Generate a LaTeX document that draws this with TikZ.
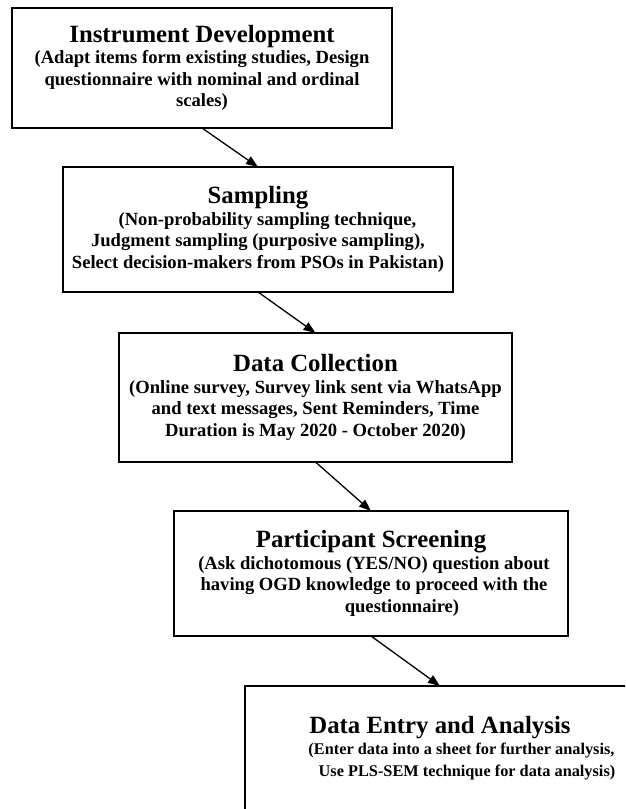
\documentclass[tikz,border=0pt]{standalone}
\usepackage{fontspec}
\setmainfont{Liberation Serif}
\usetikzlibrary{arrows.meta}
\newcommand{\ttl}[1]{{\fontsize{24.8}{21.5}\selectfont #1}}
\tikzset{
  stagebox/.style={draw=black, line width=2pt, inner sep=0pt, outer sep=0pt,
    align=center, font=\bfseries\fontsize{18.6}{21.5}\selectfont},
  flowarrow/.style={line width=1.3pt, -{Triangle[length=12pt,width=9pt]}}
}
\begin{document}
\begin{tikzpicture}[x=1pt,y=-1pt]
\useasboundingbox (0,0) rectangle (625,809);
\clip (0,0) rectangle (625,809);
\node[stagebox, minimum width=380pt, minimum height=120pt] (b1) at (202,68)
  {\ttl{Instrument Development}\\
   (Adapt items form existing studies, Design\\
   questionnaire with nominal and ordinal\\
   scales)};
\node[stagebox, minimum width=390pt, minimum height=125pt] (b2) at (258,229.5)
  {\ttl{Sampling}\\
   \hspace*{19pt}(Non-probability sampling technique,\\
   Judgment sampling (purposive sampling),\\
   Select decision-makers from PSOs in Pakistan)};
\node[stagebox, minimum width=393pt, minimum height=129pt] (b3) at (315.5,397.5)
  {\ttl{Data Collection}\\
   (Online survey, Survey link sent via WhatsApp\\
   and text messages, Sent Reminders, Time\\
   Duration is May 2020 - October 2020)};
\node[stagebox, minimum width=394pt, minimum height=125pt] (b4) at (371,573.5)
  {\ttl{Participant Screening}\\
   \hspace*{6pt}(Ask dichotomous (YES/NO) question about\\
   \hspace*{6pt}having OGD knowledge to proceed with the\\
   \hspace*{62pt}questionnaire)};
\node[stagebox, minimum width=390pt, minimum height=124pt] (b5) at (440,748)
  {\ttl{Data Entry and Analysis}\\
   {\fontsize{16.3}{21.5}\selectfont\hspace*{43pt}(Enter data into a sheet for further analysis,}\\
   {\fontsize{16.3}{21.5}\selectfont\hspace*{54pt}Use PLS-SEM technique for data analysis)}};
\draw[flowarrow] (b1.south) -- (b2.north);
\draw[flowarrow] (b2.south) -- (b3.north);
\draw[flowarrow] (b3.south) -- (b4.north);
\draw[flowarrow] (b4.south) -- (b5.north);
\end{tikzpicture}
\end{document}
